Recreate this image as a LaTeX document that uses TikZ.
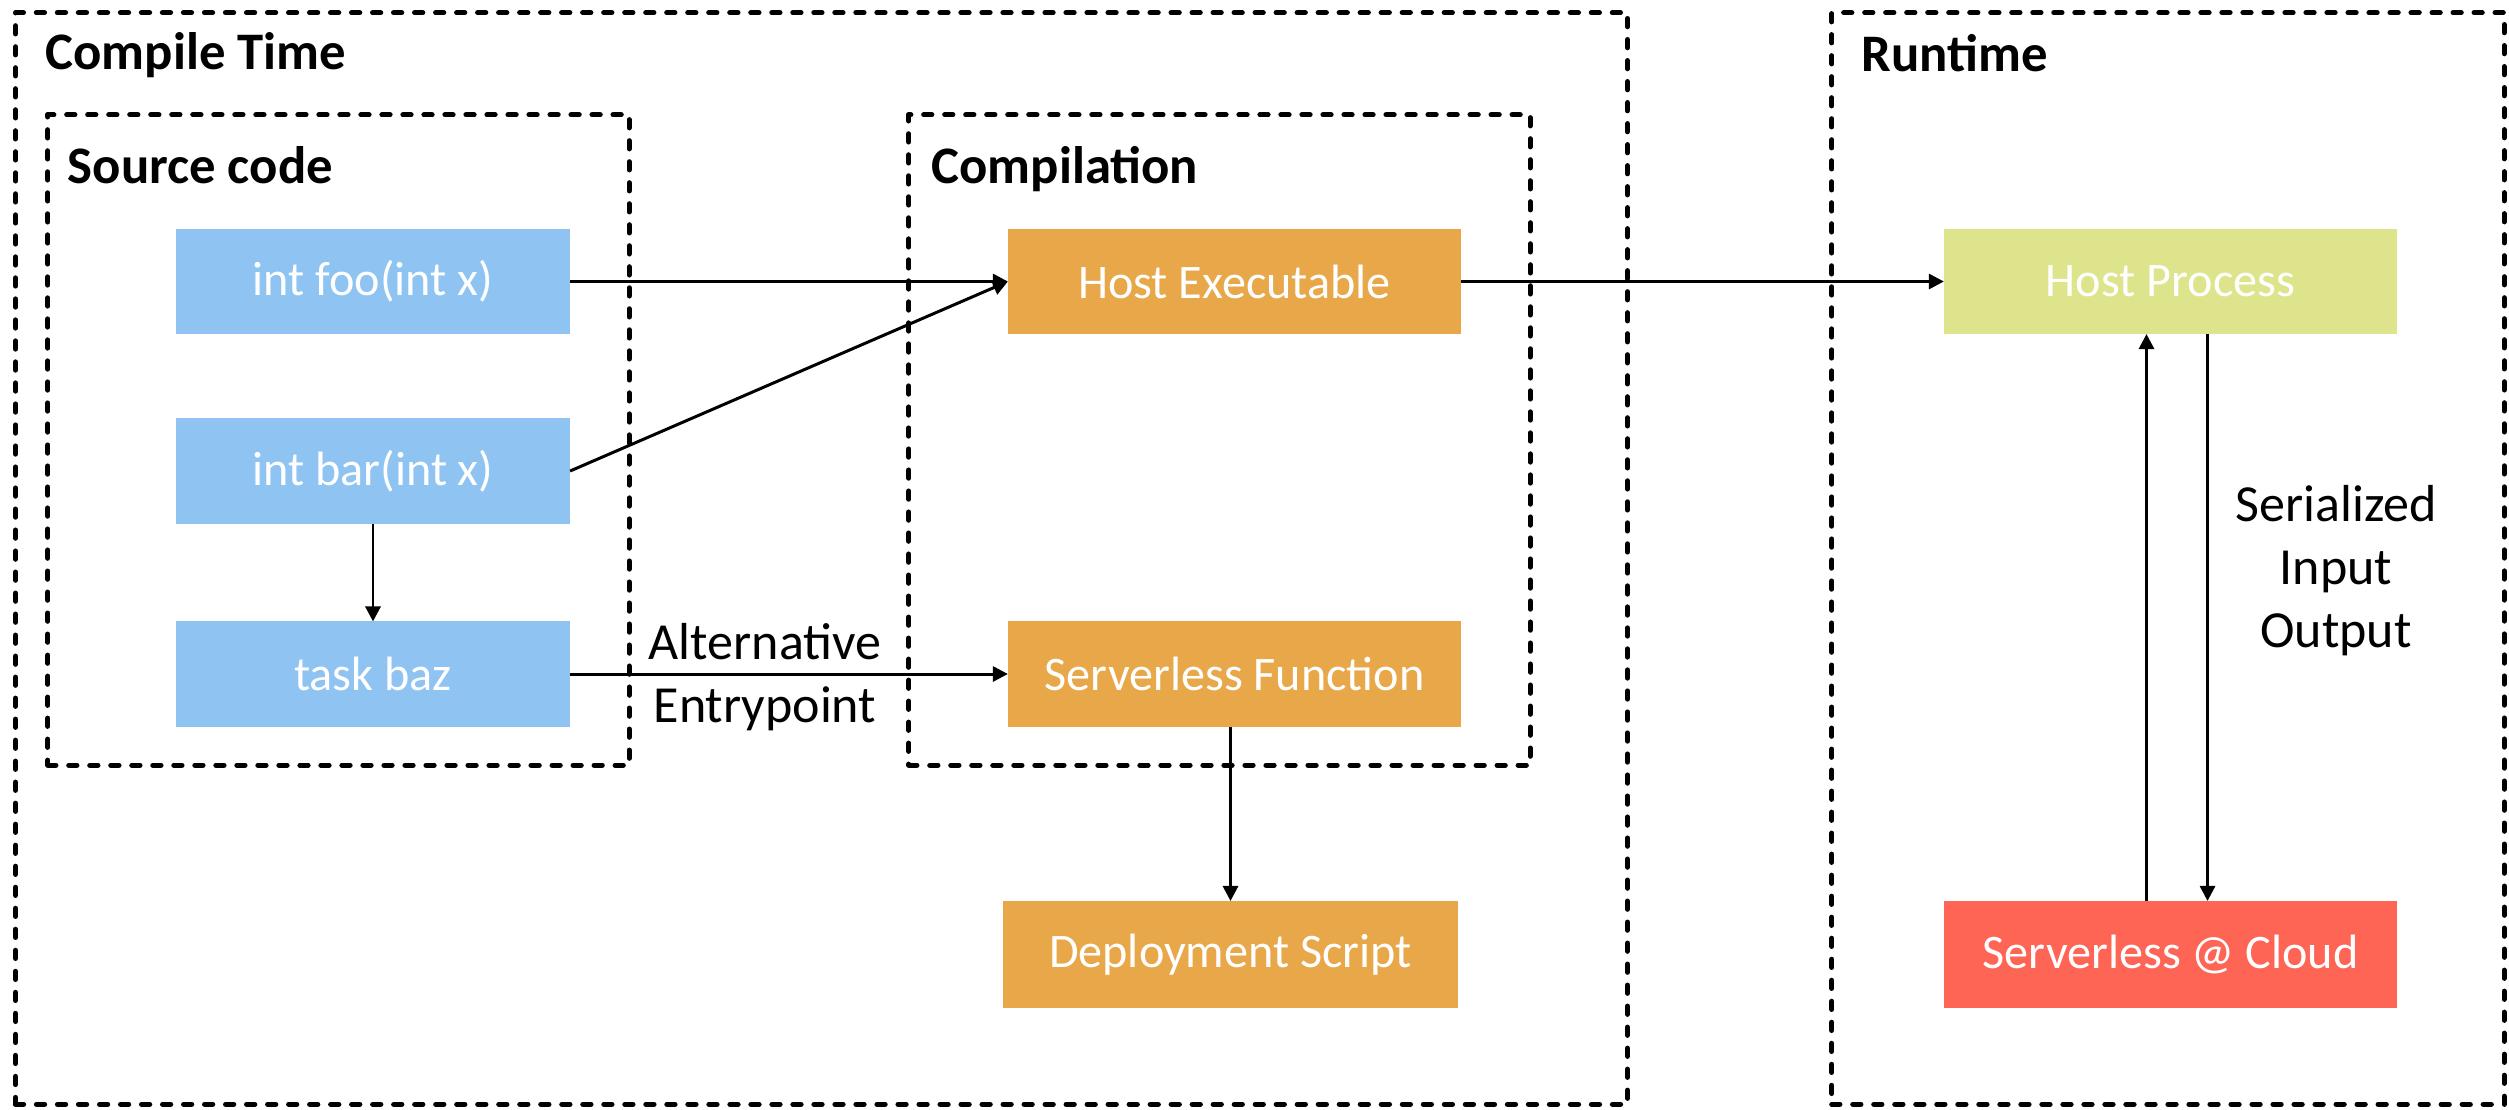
\documentclass[tikz,border=0pt]{standalone}
\usepackage{fontspec}
\setmainfont{Carlito}
\usetikzlibrary{arrows.meta}
\definecolor{srcblue}{RGB}{143,196,242}
\definecolor{comporange}{RGB}{232,168,74}
\definecolor{hostgreen}{RGB}{222,228,139}
\definecolor{cloudred}{RGB}{255,101,85}
\tikzset{
  frame/.style={draw, line width=1.5pt, dash pattern=on 0.08cm off 0.13cm,
    line cap=round, line join=round, inner sep=0pt, outer sep=0pt},
  title/.style={anchor=base west, inner sep=0pt,
    font=\fontsize{15}{18}\selectfont\bfseries},
  box/.style={fill=#1, text=white, inner sep=0pt, outer sep=0pt,
    minimum height=1.05cm, font=\fontsize{13.7}{16}\selectfont},
  srcbox/.style={box=srcblue, minimum width=3.94cm},
  compbox/.style={box=comporange, minimum width=4.53cm},
  label/.style={align=center, inner sep=0pt,
    font=\fontsize{14.8}{17.9}\selectfont},
  arr/.style={-{Triangle[length=0.15cm,width=0.15cm]}, line width=0.85pt},
}
\begin{document}
\begin{tikzpicture}[x=0.01cm, y=-0.01cm]
\useasboundingbox (0,0) rectangle (2509,1109);

% dashed group frames
\node[frame, minimum width=16.11cm, minimum height=10.91cm] (ctframe) at (821.5,558.5) {};
\node[frame, minimum width=6.72cm, minimum height=10.91cm] (rtframe) at (2168,558.5) {};
\node[frame, minimum width=5.81cm, minimum height=6.50cm] (srcframe) at (338.5,440) {};
\node[frame, minimum width=6.21cm, minimum height=6.50cm] (compframe) at (1219.5,440) {};

% group titles
\node[title] (tct) at (45,70) {Compile Time};
\node[title] (tsrc) at (67,183) {Source code};
\node[title] (tcomp) at (931,183) {Compilation};
\node[title] (trt) at (1861,71) {Runtime};

% source code
\node[srcbox] (foo) at (373,281.5) {int foo(int x)};
\node[srcbox] (bar) at (373,471) {int bar(int x)};
\node[srcbox] (baz) at (373,674) {task baz};

% compilation outputs
\node[compbox] (hexe) at (1234.5,281.5) {Host Executable};
\node[compbox] (sfun) at (1234.5,674) {Serverless Function};
\node[compbox, minimum width=4.55cm, minimum height=1.07cm] (deploy) at (1230.5,954.5) {Deployment Script};

% runtime
\node[box=hostgreen, minimum width=4.53cm] (hproc) at (2170.5,281.5) {Host Process};
\node[box=cloudred, minimum width=4.53cm, minimum height=1.07cm] (cloud) at (2170.5,954.5) {Serverless @ Cloud};

% connectors
\draw[arr] (foo.east) -- (hexe.west);
\draw[arr] (bar.east) -- (hexe.west);
\draw[arr] (bar.south) -- (baz.north);
\draw[arr] (baz.east) -- (sfun.west);
\draw[arr] (sfun.south -| deploy.north) -- (deploy.north);
\draw[arr] (hexe.east) -- (hproc.west);
\draw[arr] ([xshift=-0.24cm]cloud.north) -- ([xshift=-0.24cm]cloud.north |- hproc.south);
\draw[arr] ([xshift=0.37cm]hproc.south) -- ([xshift=0.37cm]hproc.south |- cloud.north);

% connector labels
\node[label] (altlbl) at (765,677.5) {Alternative\\Entrypoint};
\node[label] (serlbl) at (2336,571) {Serialized\\Input\\Output};
\end{tikzpicture}
\end{document}
